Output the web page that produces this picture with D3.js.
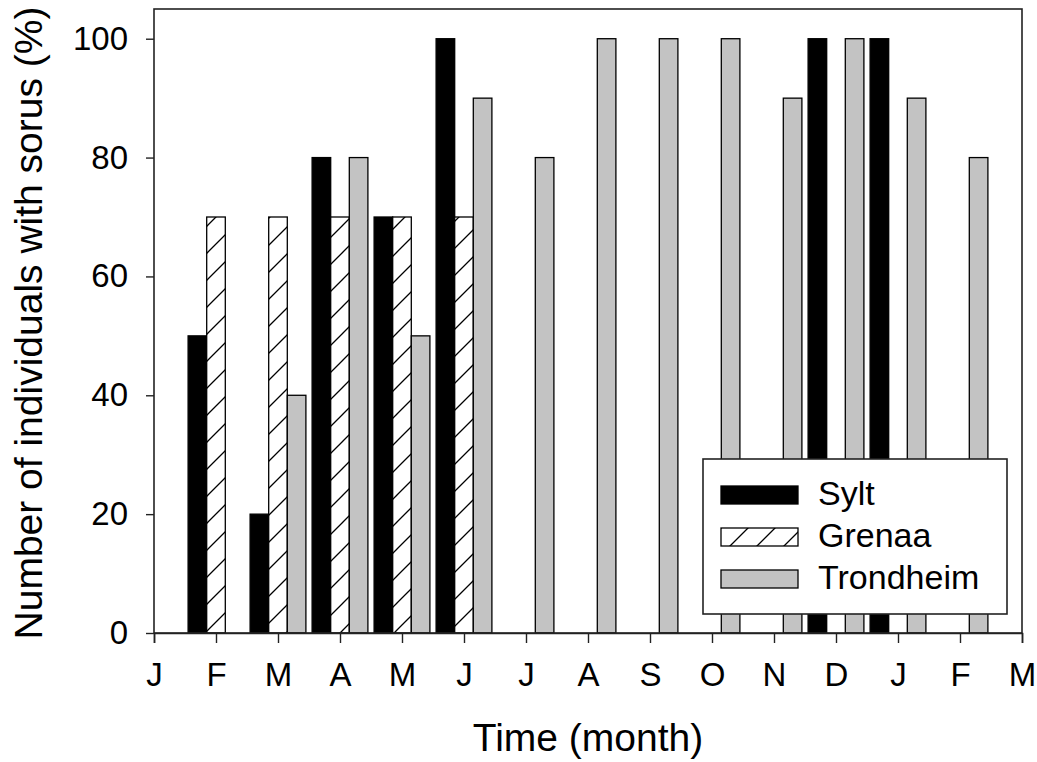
<!DOCTYPE html>
<html>
<head>
<meta charset="utf-8">
<script src="https://cdn.jsdelivr.net/npm/d3@7"></script>
<style>
  html, body { margin: 0; padding: 0; background: #fff; }
  svg { display: block; }
  text { font-family: "Liberation Sans", Arial, sans-serif; fill: #000; }
</style>
</head>
<body>
<div id="chart"></div>
<script>
// Month labels along the time axis (Jan of year 1 through Mar of year 2)
const monthLabels = ["J", "F", "M", "A", "M", "J", "J", "A", "S", "O", "N", "D", "J", "F", "M"];

// Sampling months (index into monthLabels) and % of individuals with sorus
const sampleMonths = [1, 2, 3, 4, 5, 6, 7, 8, 9, 10, 11, 12, 13];
const sylt      = [50, 20, 80, 70, 100, null, null, null, null, null, 100, 100, null];
const grenaa    = [70, 70, 70, 70, 70, null, null, null, null, null, null, null, null];
const trondheim = [null, 40, 80, 50, 90, 80, 100, 100, 100, 90, 100, 90, 80];

const seriesNames = ["Sylt", "Grenaa", "Trondheim"];
const yTicks = [0, 20, 40, 60, 80, 100];

const W = 1037, H = 762;
const margin = { left: 154, top: 9, right: 15, bottom: 129 };
const plotW = W - margin.left - margin.right;
const plotH = H - margin.top - margin.bottom;

const svg = d3.select("#chart").append("svg")
  .attr("width", W).attr("height", H);

const defs = svg.append("defs");
const hatch = defs.append("pattern")
  .attr("id", "hatch")
  .attr("patternUnits", "userSpaceOnUse")
  .attr("width", 27).attr("height", 27);
hatch.append("rect").attr("width", 27).attr("height", 27).attr("fill", "#fff");
hatch.append("path")
  .attr("d", "M0,27 L27,0 M-5,5 L5,-5 M22,32 L32,22")
  .attr("stroke", "#000").attr("stroke-width", 1.3);

const styles = [
  { fill: "#000" },
  { fill: "url(#hatch)" },
  { fill: "#c3c3c3" }
];

const x = d3.scaleLinear().domain([0, monthLabels.length - 1]).range([0, plotW]);
const y = d3.scaleLinear().domain([0, 105]).range([plotH, 0]);
const barW = x(0.3) - x(0);

const g = svg.append("g").attr("transform", `translate(${margin.left},${margin.top})`);

// Bars: three series side by side, centred on each sampling month
const allSeries = [sylt, grenaa, trondheim];
allSeries.forEach((vals, si) => {
  const pts = sampleMonths.map((m, i) => ({ m, v: vals[i] })).filter(d => d.v != null);
  g.append("g").selectAll("rect").data(pts).join("rect")
    .attr("x", d => x(d.m) + (si - 1.5) * barW)
    .attr("y", d => y(d.v))
    .attr("width", barW)
    .attr("height", d => y(0) - y(d.v))
    .attr("fill", styles[si].fill)
    .attr("stroke", "#000")
    .attr("stroke-width", 1.3);
});

// Frame
g.append("rect")
  .attr("x", 0).attr("y", 0).attr("width", plotW).attr("height", plotH)
  .attr("fill", "none").attr("stroke", "#222").attr("stroke-width", 1.6);

// Axes
const xAxis = d3.axisBottom(x)
  .tickValues(d3.range(monthLabels.length))
  .tickFormat(i => monthLabels[i])
  .tickSize(10).tickPadding(20);
const gx = g.append("g").attr("transform", `translate(0,${plotH})`).call(xAxis);
gx.select(".domain").attr("stroke", "#222").attr("stroke-width", 1.6);
gx.selectAll(".tick line").attr("stroke", "#222").attr("stroke-width", 1.4);
gx.selectAll(".tick text")
  .attr("font-size", 33).attr("font-family", "Liberation Sans, Arial, sans-serif").attr("fill", "#000");

const yAxis = d3.axisLeft(y).tickValues(yTicks).tickSize(8).tickPadding(18);
const gy = g.append("g").call(yAxis);
gy.select(".domain").remove();
gy.selectAll(".tick line").attr("stroke", "#222").attr("stroke-width", 1.4);
gy.selectAll(".tick text")
  .attr("font-size", 33).attr("font-family", "Liberation Sans, Arial, sans-serif").attr("fill", "#000");

// Axis titles
svg.append("text")
  .attr("x", margin.left + plotW / 2).attr("y", 751)
  .attr("text-anchor", "middle").attr("font-size", 39)
  .text("Time (month)");
svg.append("text")
  .attr("transform", `translate(42,${margin.top + plotH / 2 + 2}) rotate(-90)`)
  .attr("text-anchor", "middle").attr("font-size", 39)
  .text("Number of individuals with sorus (%)");

// Legend
const lg = svg.append("g").attr("transform", "translate(703,459)");
lg.append("rect").attr("width", 304).attr("height", 155)
  .attr("fill", "#fff").attr("stroke", "#222").attr("stroke-width", 1.6);
seriesNames.forEach((name, i) => {
  const row = lg.append("g").attr("transform", `translate(18,${27 + i * 42})`);
  row.append("rect").attr("width", 77).attr("height", 18)
    .attr("fill", styles[i].fill).attr("stroke", "#000").attr("stroke-width", 1.3);
  row.append("text").attr("x", 97).attr("y", 19).attr("font-size", 34).text(name);
});
</script>
</body>
</html>
